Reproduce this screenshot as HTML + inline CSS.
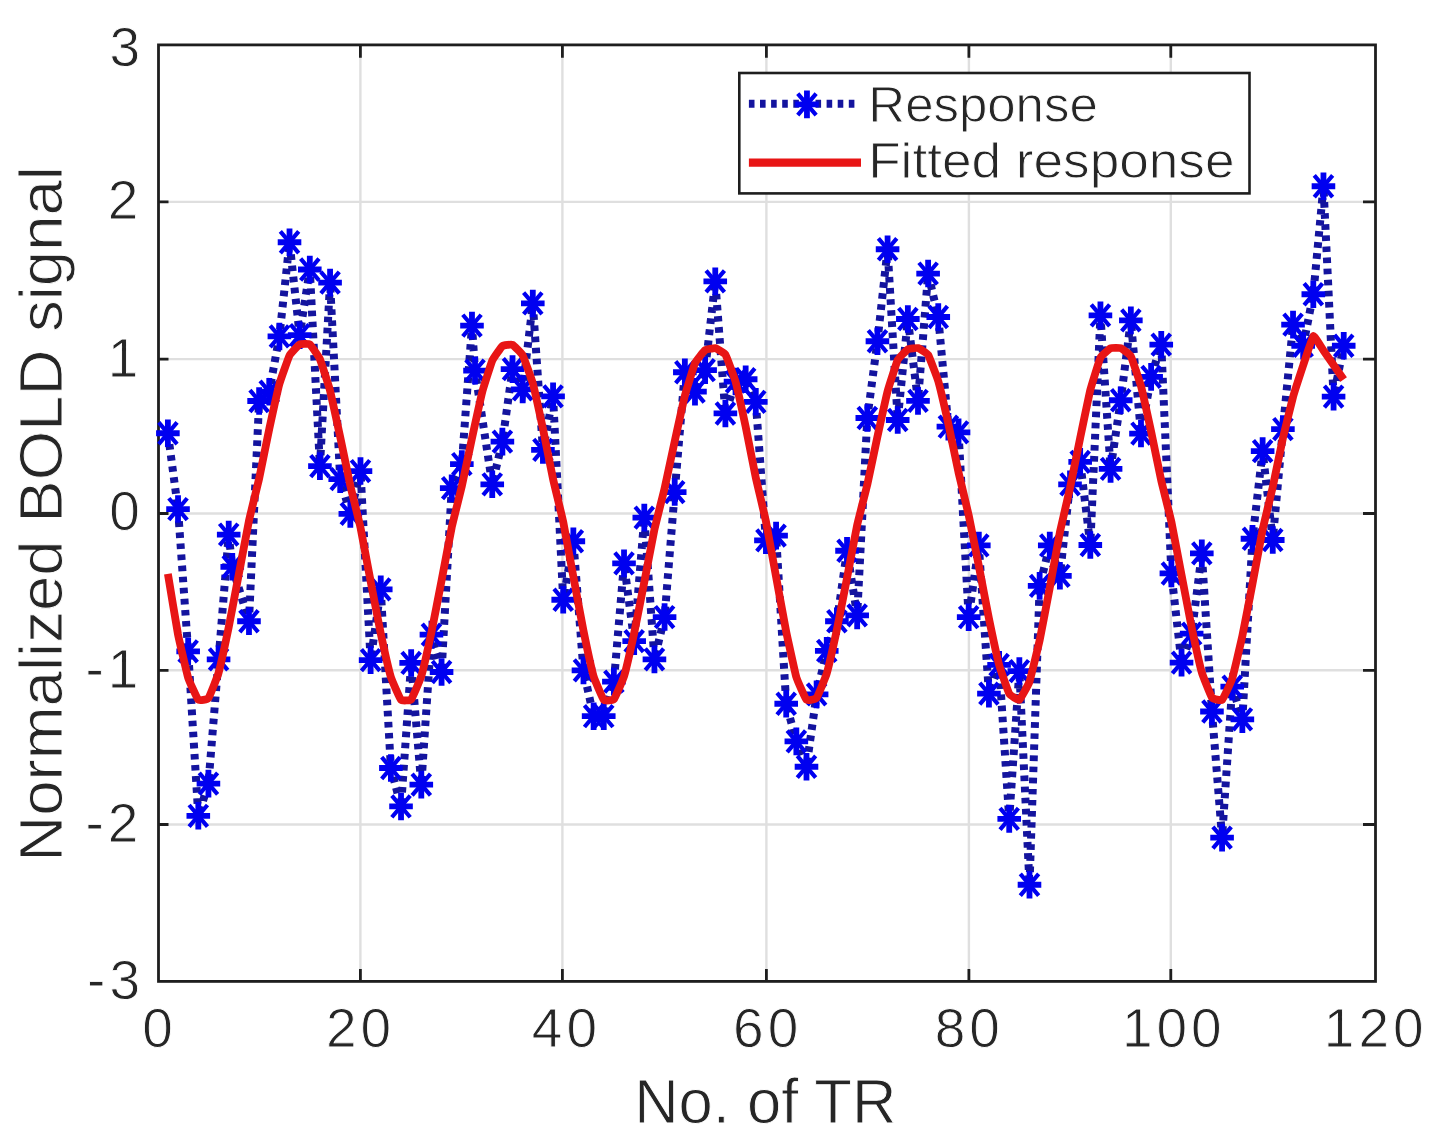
<!DOCTYPE html><html><head><meta charset="utf-8"><style>html,body{margin:0;padding:0;background:#fff;}svg{display:block;}text{font-family:"Liberation Sans",sans-serif;fill:#262626;stroke:#fff;stroke-width:0.9px;}</style></head><body>
<svg width="1440" height="1138" viewBox="0 0 1440 1138">
<rect width="1440" height="1138" fill="#fff"/>
<path d="M360.40 44.90V981.40M562.40 44.90V981.40M766.40 44.90V981.40M968.90 44.90V981.40M1170.80 44.90V981.40M158.50 201.90H1375.50M158.50 359.10H1375.50M158.50 513.50H1375.50M158.50 670.30H1375.50M158.50 824.50H1375.50" stroke="#dfdfdf" stroke-width="2.4" fill="none"/>
<path d="M360.40 981.40V969.00M360.40 44.90V57.70M562.40 981.40V969.00M562.40 44.90V57.70M766.40 981.40V969.00M766.40 44.90V57.70M968.90 981.40V969.00M968.90 44.90V57.70M1170.80 981.40V969.00M1170.80 44.90V57.70M158.50 201.90H168.50M1375.50 201.90H1363.00M158.50 359.10H168.50M1375.50 359.10H1363.00M158.50 513.50H168.50M1375.50 513.50H1363.00M158.50 670.30H168.50M1375.50 670.30H1363.00M158.50 824.50H168.50M1375.50 824.50H1363.00" stroke="#1e1e1e" stroke-width="2.8" fill="none"/>
<rect x="158.50" y="44.90" width="1217.00" height="936.50" fill="none" stroke="#1e1e1e" stroke-width="2.8"/>
<polyline points="167.89,433.24 178.02,509.04 188.16,651.29 198.30,815.80 208.43,783.58 218.57,659.38 228.71,534.56 232.25,566.78 248.98,621.25 259.12,401.02 269.25,391.68 279.39,336.43 289.52,242.27 299.66,335.19 309.80,269.51 319.93,466.08 330.07,282.58 340.21,479.15 350.34,513.86 360.48,471.06 370.62,660.16 380.75,589.35 390.89,768.02 401.03,806.46 411.16,662.96 421.30,784.67 431.44,634.64 441.57,671.99 451.71,488.18 461.84,464.06 471.98,325.54 475.02,370.67 492.25,484.29 502.39,441.64 512.53,369.11 522.66,389.35 532.80,303.43 542.94,449.89 553.07,396.35 563.21,599.77 573.35,541.25 583.48,670.43 593.62,716.19 603.76,716.19 613.89,681.64 624.03,563.35 634.17,641.17 644.30,517.60 654.44,659.38 664.58,617.05 674.71,492.07 684.85,372.23 694.98,391.68 705.12,370.20 715.26,281.33 725.39,413.47 735.53,381.57 745.67,379.23 755.80,401.80 765.94,540.32 776.08,535.65 786.21,703.74 796.35,741.41 806.49,766.77 816.62,694.40 826.76,650.82 836.90,621.25 847.03,550.75 857.17,615.34 867.30,417.99 877.44,341.26 887.58,249.27 897.71,420.01 907.85,319.00 917.99,400.87 928.12,273.55 938.26,316.98 948.40,426.70 958.53,432.30 968.67,617.20 978.81,545.45 988.94,693.62 999.08,664.83 1009.22,818.91 1019.35,671.06 1029.49,884.75 1039.63,585.92 1049.76,545.45 1059.90,575.80 1070.03,484.29 1080.17,461.88 1090.31,544.99 1100.44,315.42 1110.58,468.88 1120.72,400.24 1130.85,320.40 1140.99,433.55 1151.13,376.90 1161.26,344.68 1171.40,573.47 1181.54,662.65 1191.67,633.70 1201.81,553.39 1211.95,711.52 1222.08,837.59 1232.22,686.62 1242.36,719.30 1252.49,538.76 1262.63,451.14 1272.76,540.01 1282.90,429.04 1293.04,324.60 1303.17,345.77 1313.31,294.25 1323.45,186.24 1333.58,396.66 1343.72,345.77" fill="none" stroke="#14149e" stroke-width="8" stroke-dasharray="5.6 5.5" stroke-linejoin="miter"/>
<path d="M158.69 422.44L177.09 444.04M158.69 444.04L177.09 422.44M168.82 498.24L187.22 519.84M168.82 519.84L187.22 498.24M178.96 640.49L197.36 662.09M178.96 662.09L197.36 640.49M189.10 805.00L207.50 826.60M189.10 826.60L207.50 805.00M199.23 772.78L217.63 794.38M199.23 794.38L217.63 772.78M209.37 648.58L227.77 670.18M209.37 670.18L227.77 648.58M219.51 523.76L237.91 545.36M219.51 545.36L237.91 523.76M223.05 555.98L241.45 577.58M223.05 577.58L241.45 555.98M239.78 610.45L258.18 632.05M239.78 632.05L258.18 610.45M249.92 390.22L268.31 411.82M249.92 411.82L268.31 390.22M260.05 380.88L278.45 402.48M260.05 402.48L278.45 380.88M270.19 325.63L288.59 347.23M270.19 347.23L288.59 325.63M280.32 231.47L298.72 253.07M280.32 253.07L298.72 231.47M290.46 324.39L308.86 345.99M290.46 345.99L308.86 324.39M300.60 258.71L319.00 280.31M300.60 280.31L319.00 258.71M310.73 455.28L329.13 476.88M310.73 476.88L329.13 455.28M320.87 271.78L339.27 293.38M320.87 293.38L339.27 271.78M331.01 468.35L349.41 489.95M331.01 489.95L349.41 468.35M341.14 503.06L359.54 524.66M341.14 524.66L359.54 503.06M351.28 460.26L369.68 481.86M351.28 481.86L369.68 460.26M361.42 649.36L379.82 670.96M361.42 670.96L379.82 649.36M371.55 578.55L389.95 600.15M371.55 600.15L389.95 578.55M381.69 757.22L400.09 778.82M381.69 778.82L400.09 757.22M391.83 795.66L410.23 817.26M391.83 817.26L410.23 795.66M401.96 652.16L420.36 673.76M401.96 673.76L420.36 652.16M412.10 773.87L430.50 795.47M412.10 795.47L430.50 773.87M422.24 623.84L440.64 645.44M422.24 645.44L440.64 623.84M432.37 661.19L450.77 682.79M432.37 682.79L450.77 661.19M442.51 477.38L460.91 498.98M442.51 498.98L460.91 477.38M452.64 453.26L471.04 474.86M452.64 474.86L471.04 453.26M462.78 314.74L481.18 336.34M462.78 336.34L481.18 314.74M465.82 359.87L484.22 381.47M465.82 381.47L484.22 359.87M483.05 473.49L501.45 495.09M483.05 495.09L501.45 473.49M493.19 430.84L511.59 452.44M493.19 452.44L511.59 430.84M503.33 358.31L521.73 379.91M503.33 379.91L521.73 358.31M513.46 378.55L531.86 400.15M513.46 400.15L531.86 378.55M523.60 292.63L542.00 314.23M523.60 314.23L542.00 292.63M533.74 439.09L552.14 460.69M533.74 460.69L552.14 439.09M543.87 385.55L562.27 407.15M543.87 407.15L562.27 385.55M554.01 588.97L572.41 610.57M554.01 610.57L572.41 588.97M564.15 530.45L582.55 552.05M564.15 552.05L582.55 530.45M574.28 659.63L592.68 681.23M574.28 681.23L592.68 659.63M584.42 705.39L602.82 726.99M584.42 726.99L602.82 705.39M594.56 705.39L612.96 726.99M594.56 726.99L612.96 705.39M604.69 670.84L623.09 692.44M604.69 692.44L623.09 670.84M614.83 552.55L633.23 574.15M614.83 574.15L633.23 552.55M624.97 630.37L643.37 651.97M624.97 651.97L643.37 630.37M635.10 506.80L653.50 528.40M635.10 528.40L653.50 506.80M645.24 648.58L663.64 670.18M645.24 670.18L663.64 648.58M655.38 606.25L673.78 627.85M655.38 627.85L673.78 606.25M665.51 481.27L683.91 502.87M665.51 502.87L683.91 481.27M675.65 361.43L694.05 383.03M675.65 383.03L694.05 361.43M685.78 380.88L704.18 402.48M685.78 402.48L704.18 380.88M695.92 359.40L714.32 381.00M695.92 381.00L714.32 359.40M706.06 270.53L724.46 292.13M706.06 292.13L724.46 270.53M716.19 402.67L734.59 424.27M716.19 424.27L734.59 402.67M726.33 370.77L744.73 392.37M726.33 392.37L744.73 370.77M736.47 368.43L754.87 390.03M736.47 390.03L754.87 368.43M746.60 391.00L765.00 412.60M746.60 412.60L765.00 391.00M756.74 529.52L775.14 551.12M756.74 551.12L775.14 529.52M766.88 524.85L785.28 546.45M766.88 546.45L785.28 524.85M777.01 692.94L795.41 714.54M777.01 714.54L795.41 692.94M787.15 730.61L805.55 752.21M787.15 752.21L805.55 730.61M797.29 755.98L815.69 777.57M797.29 777.57L815.69 755.98M807.42 683.60L825.82 705.20M807.42 705.20L825.82 683.60M817.56 640.02L835.96 661.62M817.56 661.62L835.96 640.02M827.70 610.45L846.10 632.05M827.70 632.05L846.10 610.45M837.83 539.95L856.23 561.55M837.83 561.55L856.23 539.95M847.97 604.54L866.37 626.14M847.97 626.14L866.37 604.54M858.10 407.19L876.50 428.79M858.10 428.79L876.50 407.19M868.24 330.46L886.64 352.06M868.24 352.06L886.64 330.46M878.38 238.47L896.78 260.07M878.38 260.07L896.78 238.47M888.51 409.21L906.91 430.81M888.51 430.81L906.91 409.21M898.65 308.20L917.05 329.80M898.65 329.80L917.05 308.20M908.79 390.07L927.19 411.67M908.79 411.67L927.19 390.07M918.92 262.75L937.32 284.35M918.92 284.35L937.32 262.75M929.06 306.18L947.46 327.78M929.06 327.78L947.46 306.18M939.20 415.90L957.60 437.50M939.20 437.50L957.60 415.90M949.33 421.50L967.73 443.10M949.33 443.10L967.73 421.50M959.47 606.40L977.87 628.00M959.47 628.00L977.87 606.40M969.61 534.65L988.01 556.25M969.61 556.25L988.01 534.65M979.74 682.82L998.14 704.42M979.74 704.42L998.14 682.82M989.88 654.03L1008.28 675.63M989.88 675.63L1008.28 654.03M1000.02 808.11L1018.42 829.71M1000.02 829.71L1018.42 808.11M1010.15 660.26L1028.55 681.86M1010.15 681.86L1028.55 660.26M1020.29 873.95L1038.69 895.55M1020.29 895.55L1038.69 873.95M1030.43 575.12L1048.83 596.72M1030.43 596.72L1048.83 575.12M1040.56 534.65L1058.96 556.25M1040.56 556.25L1058.96 534.65M1050.70 565.00L1069.10 586.60M1050.70 586.60L1069.10 565.00M1060.83 473.49L1079.23 495.09M1060.83 495.09L1079.23 473.49M1070.97 451.08L1089.37 472.68M1070.97 472.68L1089.37 451.08M1081.11 534.19L1099.51 555.79M1081.11 555.79L1099.51 534.19M1091.24 304.62L1109.64 326.22M1091.24 326.22L1109.64 304.62M1101.38 458.08L1119.78 479.68M1101.38 479.68L1119.78 458.08M1111.52 389.44L1129.92 411.04M1111.52 411.04L1129.92 389.44M1121.65 309.60L1140.05 331.20M1121.65 331.20L1140.05 309.60M1131.79 422.75L1150.19 444.35M1131.79 444.35L1150.19 422.75M1141.93 366.10L1160.33 387.70M1141.93 387.70L1160.33 366.10M1152.06 333.88L1170.46 355.48M1152.06 355.48L1170.46 333.88M1162.20 562.67L1180.60 584.27M1162.20 584.27L1180.60 562.67M1172.34 651.85L1190.74 673.45M1172.34 673.45L1190.74 651.85M1182.47 622.90L1200.87 644.50M1182.47 644.50L1200.87 622.90M1192.61 542.59L1211.01 564.19M1192.61 564.19L1211.01 542.59M1202.75 700.72L1221.15 722.32M1202.75 722.32L1221.15 700.72M1212.88 826.79L1231.28 848.39M1212.88 848.39L1231.28 826.79M1223.02 675.82L1241.42 697.42M1223.02 697.42L1241.42 675.82M1233.16 708.50L1251.56 730.10M1233.16 730.10L1251.56 708.50M1243.29 527.96L1261.69 549.56M1243.29 549.56L1261.69 527.96M1253.43 440.34L1271.83 461.94M1253.43 461.94L1271.83 440.34M1263.56 529.21L1281.96 550.81M1263.56 550.81L1281.96 529.21M1273.70 418.24L1292.10 439.84M1273.70 439.84L1292.10 418.24M1283.84 313.80L1302.24 335.40M1283.84 335.40L1302.24 313.80M1293.97 334.97L1312.37 356.57M1293.97 356.57L1312.37 334.97M1304.11 283.45L1322.51 305.05M1304.11 305.05L1322.51 283.45M1314.25 175.44L1332.65 197.04M1314.25 197.04L1332.65 175.44M1324.38 385.86L1342.78 407.46M1324.38 407.46L1342.78 385.86M1334.52 334.97L1352.92 356.57M1334.52 356.57L1352.92 334.97" fill="none" stroke="#0000f0" stroke-width="4.2"/>
<path d="M156.09 433.24H179.69M167.89 419.44V447.04M166.22 509.04H189.82M178.02 495.24V522.84M176.36 651.29H199.96M188.16 637.49V665.09M186.50 815.80H210.10M198.30 802.00V829.60M196.63 783.58H220.23M208.43 769.78V797.38M206.77 659.38H230.37M218.57 645.58V673.18M216.91 534.56H240.51M228.71 520.76V548.36M220.45 566.78H244.05M232.25 552.98V580.58M237.18 621.25H260.78M248.98 607.45V635.05M247.31 401.02H270.92M259.12 387.22V414.82M257.45 391.68H281.05M269.25 377.88V405.48M267.59 336.43H291.19M279.39 322.63V350.23M277.72 242.27H301.32M289.52 228.47V256.07M287.86 335.19H311.46M299.66 321.39V348.99M298.00 269.51H321.60M309.80 255.71V283.31M308.13 466.08H331.73M319.93 452.28V479.88M318.27 282.58H341.87M330.07 268.78V296.38M328.41 479.15H352.01M340.21 465.35V492.95M338.54 513.86H362.14M350.34 500.06V527.66M348.68 471.06H372.28M360.48 457.26V484.86M358.82 660.16H382.42M370.62 646.36V673.96M368.95 589.35H392.55M380.75 575.55V603.15M379.09 768.02H402.69M390.89 754.22V781.82M389.23 806.46H412.83M401.03 792.66V820.26M399.36 662.96H422.96M411.16 649.16V676.76M409.50 784.67H433.10M421.30 770.87V798.47M419.64 634.64H443.24M431.44 620.84V648.44M429.77 671.99H453.37M441.57 658.19V685.79M439.91 488.18H463.51M451.71 474.38V501.98M450.04 464.06H473.64M461.84 450.26V477.86M460.18 325.54H483.78M471.98 311.74V339.34M463.22 370.67H486.82M475.02 356.87V384.47M480.45 484.29H504.05M492.25 470.49V498.09M490.59 441.64H514.19M502.39 427.84V455.44M500.73 369.11H524.33M512.53 355.31V382.91M510.86 389.35H534.46M522.66 375.55V403.15M521.00 303.43H544.60M532.80 289.63V317.23M531.14 449.89H554.74M542.94 436.09V463.69M541.27 396.35H564.87M553.07 382.55V410.15M551.41 599.77H575.01M563.21 585.97V613.57M561.55 541.25H585.15M573.35 527.45V555.05M571.68 670.43H595.28M583.48 656.63V684.23M581.82 716.19H605.42M593.62 702.39V729.99M591.96 716.19H615.56M603.76 702.39V729.99M602.09 681.64H625.69M613.89 667.84V695.44M612.23 563.35H635.83M624.03 549.55V577.15M622.37 641.17H645.97M634.17 627.37V654.97M632.50 517.60H656.10M644.30 503.80V531.40M642.64 659.38H666.24M654.44 645.58V673.18M652.78 617.05H676.38M664.58 603.25V630.85M662.91 492.07H686.51M674.71 478.27V505.87M673.05 372.23H696.65M684.85 358.43V386.03M683.18 391.68H706.78M694.98 377.88V405.48M693.32 370.20H716.92M705.12 356.40V384.00M703.46 281.33H727.06M715.26 267.53V295.13M713.59 413.47H737.19M725.39 399.67V427.27M723.73 381.57H747.33M735.53 367.77V395.37M733.87 379.23H757.47M745.67 365.43V393.03M744.00 401.80H767.60M755.80 388.00V415.60M754.14 540.32H777.74M765.94 526.52V554.12M764.28 535.65H787.88M776.08 521.85V549.45M774.41 703.74H798.01M786.21 689.94V717.54M784.55 741.41H808.15M796.35 727.61V755.21M794.69 766.77H818.29M806.49 752.98V780.57M804.82 694.40H828.42M816.62 680.60V708.20M814.96 650.82H838.56M826.76 637.02V664.62M825.10 621.25H848.70M836.90 607.45V635.05M835.23 550.75H858.83M847.03 536.95V564.55M845.37 615.34H868.97M857.17 601.54V629.14M855.50 417.99H879.10M867.30 404.19V431.79M865.64 341.26H889.24M877.44 327.46V355.06M875.78 249.27H899.38M887.58 235.47V263.07M885.91 420.01H909.51M897.71 406.21V433.81M896.05 319.00H919.65M907.85 305.20V332.80M906.19 400.87H929.79M917.99 387.07V414.67M916.32 273.55H939.92M928.12 259.75V287.35M926.46 316.98H950.06M938.26 303.18V330.78M936.60 426.70H960.20M948.40 412.90V440.50M946.73 432.30H970.33M958.53 418.50V446.10M956.87 617.20H980.47M968.67 603.40V631.00M967.01 545.45H990.61M978.81 531.65V559.25M977.14 693.62H1000.74M988.94 679.82V707.42M987.28 664.83H1010.88M999.08 651.03V678.63M997.42 818.91H1021.02M1009.22 805.11V832.71M1007.55 671.06H1031.15M1019.35 657.26V684.86M1017.69 884.75H1041.29M1029.49 870.95V898.55M1027.83 585.92H1051.43M1039.63 572.12V599.72M1037.96 545.45H1061.56M1049.76 531.65V559.25M1048.10 575.80H1071.70M1059.90 562.00V589.60M1058.23 484.29H1081.83M1070.03 470.49V498.09M1068.37 461.88H1091.97M1080.17 448.08V475.68M1078.51 544.99H1102.11M1090.31 531.19V558.79M1088.64 315.42H1112.24M1100.44 301.62V329.22M1098.78 468.88H1122.38M1110.58 455.08V482.68M1108.92 400.24H1132.52M1120.72 386.44V414.04M1119.05 320.40H1142.65M1130.85 306.60V334.20M1129.19 433.55H1152.79M1140.99 419.75V447.35M1139.33 376.90H1162.93M1151.13 363.10V390.70M1149.46 344.68H1173.06M1161.26 330.88V358.48M1159.60 573.47H1183.20M1171.40 559.67V587.27M1169.74 662.65H1193.34M1181.54 648.85V676.45M1179.87 633.70H1203.47M1191.67 619.90V647.50M1190.01 553.39H1213.61M1201.81 539.59V567.19M1200.15 711.52H1223.75M1211.95 697.72V725.32M1210.28 837.59H1233.88M1222.08 823.79V851.39M1220.42 686.62H1244.02M1232.22 672.82V700.42M1230.56 719.30H1254.16M1242.36 705.50V733.10M1240.69 538.76H1264.29M1252.49 524.96V552.56M1250.83 451.14H1274.43M1262.63 437.34V464.94M1260.96 540.01H1284.56M1272.76 526.21V553.81M1271.10 429.04H1294.70M1282.90 415.24V442.84M1281.24 324.60H1304.84M1293.04 310.80V338.40M1291.37 345.77H1314.97M1303.17 331.97V359.57M1301.51 294.25H1325.11M1313.31 280.45V308.05M1311.65 186.24H1335.25M1323.45 172.44V200.04M1321.78 396.66H1345.38M1333.58 382.86V410.46M1331.92 345.77H1355.52M1343.72 331.97V359.57" fill="none" stroke="#0000f0" stroke-width="5.8"/>
<path d="M167.89 573.94C168.39 576.97 177.01 629.31 178.02 634.51C179.04 639.70 187.15 674.58 188.16 677.85C189.17 681.12 197.28 698.83 198.30 699.85C199.31 700.87 207.42 699.51 208.43 698.16C209.45 696.81 217.56 676.40 218.57 672.85C219.58 669.31 227.69 632.21 228.71 627.27C229.72 622.33 237.83 579.41 238.84 574.08C239.86 568.75 247.96 525.46 248.98 520.69C249.99 515.91 258.10 483.17 259.12 478.59C260.13 474.01 268.24 433.82 269.25 429.09C270.27 424.36 278.37 387.71 279.39 384.04C280.40 380.36 288.51 357.55 289.52 355.56C290.54 353.58 298.65 344.93 299.66 344.37C300.67 343.81 308.78 343.63 309.80 344.37C310.81 345.10 318.92 356.77 319.93 359.08C320.95 361.40 329.06 386.79 330.07 390.68C331.08 394.58 339.19 432.24 340.21 436.99C341.22 441.74 349.33 481.19 350.34 485.71C351.36 490.24 359.47 522.69 360.48 527.47C361.49 532.25 369.60 576.03 370.62 581.33C371.63 586.64 379.74 628.71 380.75 633.50C381.77 638.29 389.88 673.83 390.89 677.15C391.90 680.47 400.01 698.74 401.03 699.85C402.04 700.96 410.15 700.56 411.16 699.38C412.18 698.19 420.29 679.55 421.30 676.19C422.31 672.84 430.42 637.05 431.44 632.26C432.45 627.48 440.56 585.81 441.57 580.57C442.59 575.32 450.69 532.11 451.71 527.39C452.72 522.67 460.83 490.65 461.84 486.19C462.86 481.73 470.97 442.89 471.98 438.20C473.00 433.52 481.10 396.30 482.12 392.42C483.13 388.54 491.24 362.94 492.25 360.62C493.27 358.31 501.38 346.87 502.39 346.08C503.40 345.29 511.51 344.38 512.53 344.83C513.54 345.29 521.65 353.29 522.66 355.21C523.68 357.13 531.79 379.60 532.80 383.27C533.81 386.95 541.92 423.97 542.94 428.76C543.95 433.56 552.06 474.48 553.07 479.14C554.09 483.80 562.20 517.01 563.21 521.88C564.22 526.76 572.33 571.19 573.35 576.63C574.36 582.07 582.47 625.72 583.48 630.71C584.50 635.69 592.61 672.94 593.62 676.39C594.63 679.85 602.74 698.71 603.76 699.85C604.77 700.99 612.88 700.45 613.89 699.27C614.91 698.10 623.02 679.66 624.03 676.35C625.04 673.04 633.15 637.76 634.17 633.05C635.18 628.34 643.29 587.25 644.30 582.08C645.32 576.90 653.42 534.23 654.44 529.54C655.45 524.85 663.56 492.68 664.58 488.27C665.59 483.86 673.70 445.88 674.71 441.26C675.73 436.63 683.83 399.69 684.85 395.79C685.86 391.88 693.97 365.45 694.98 363.17C696.00 360.89 704.11 350.96 705.12 350.20C706.13 349.45 714.24 347.88 715.26 348.10C716.27 348.32 724.38 352.92 725.39 354.58C726.41 356.25 734.52 377.84 735.53 381.44C736.54 385.05 744.65 421.91 745.67 426.72C746.68 431.54 754.79 473.02 755.80 477.75C756.82 482.48 764.93 516.43 765.94 521.39C766.95 526.34 775.06 571.33 776.08 576.85C777.09 582.36 785.20 626.68 786.21 631.70C787.23 636.72 795.34 673.84 796.35 677.25C797.36 680.65 805.47 698.82 806.49 699.85C807.50 700.88 815.61 699.11 816.62 697.79C817.64 696.47 825.75 676.87 826.76 673.46C827.77 670.04 835.88 634.29 836.90 629.52C837.91 624.74 846.02 583.18 847.03 577.96C848.05 572.74 856.15 529.72 857.17 525.06C858.18 520.39 866.29 489.08 867.30 484.66C868.32 480.24 876.43 441.33 877.44 436.66C878.46 431.99 886.56 395.09 887.58 391.26C888.59 387.43 896.70 362.14 897.71 360.04C898.73 357.95 906.84 349.91 907.85 349.32C908.86 348.72 916.97 347.82 917.99 348.10C919.00 348.38 927.11 353.24 928.12 354.90C929.14 356.55 937.25 377.68 938.26 381.14C939.27 384.59 947.38 419.46 948.40 424.03C949.41 428.60 957.52 467.94 958.53 472.49C959.55 477.04 967.66 510.37 968.67 515.04C969.68 519.71 977.79 560.70 978.81 565.88C979.82 571.05 987.93 613.59 988.94 618.54C989.96 623.48 998.07 661.08 999.08 664.83C1000.09 668.58 1008.20 691.84 1009.22 693.59C1010.23 695.34 1018.34 700.45 1019.35 699.85C1020.37 699.25 1028.48 684.59 1029.49 681.62C1030.50 678.65 1038.61 645.14 1039.63 640.45C1040.64 635.75 1048.75 593.15 1049.76 587.74C1050.78 582.33 1058.88 537.19 1059.90 532.20C1060.91 527.21 1069.02 492.61 1070.03 487.90C1071.05 483.19 1079.16 442.83 1080.17 437.93C1081.19 433.03 1089.29 394.01 1090.31 389.99C1091.32 385.97 1099.43 359.68 1100.44 357.59C1101.46 355.50 1109.57 348.69 1110.58 348.21C1111.59 347.74 1119.70 347.70 1120.72 348.10C1121.73 348.50 1129.84 354.33 1130.85 356.23C1131.87 358.13 1139.98 382.33 1140.99 386.10C1142.00 389.86 1150.11 426.89 1151.13 431.62C1152.14 436.34 1160.25 476.14 1161.26 480.65C1162.28 485.17 1170.39 517.15 1171.40 521.86C1172.41 526.58 1180.52 569.64 1181.54 574.92C1182.55 580.20 1190.66 622.53 1191.67 627.40C1192.69 632.27 1200.80 668.87 1201.81 672.38C1202.82 675.89 1210.93 696.23 1211.95 697.60C1212.96 698.98 1221.07 700.80 1222.08 699.85C1223.10 698.90 1231.21 681.76 1232.22 678.56C1233.23 675.36 1241.34 640.59 1242.36 635.85C1243.37 631.11 1251.48 589.06 1252.49 583.74C1253.51 578.43 1261.61 534.40 1262.63 529.56C1263.64 524.73 1271.75 491.58 1272.76 487.01C1273.78 482.44 1281.89 442.71 1282.90 438.20C1283.92 433.70 1292.02 400.62 1293.04 396.97C1294.05 393.33 1302.16 368.42 1303.17 365.38C1304.19 362.34 1312.30 336.87 1313.31 336.12C1314.32 335.37 1322.43 349.00 1323.45 350.44C1324.46 351.88 1332.57 363.46 1333.58 364.91C1334.60 366.37 1343.21 378.81 1343.72 379.54" fill="none" stroke="#e81515" stroke-width="7.8" stroke-linejoin="round"/>
<text x="109.43" y="65.60" font-size="55" letter-spacing="4.0">3</text>
<text x="107.68" y="219.00" font-size="55" letter-spacing="4.0">2</text>
<text x="107.80" y="377.00" font-size="55" letter-spacing="4.0">1</text>
<text x="109.16" y="530.20" font-size="55" letter-spacing="4.0">0</text>
<text x="85.38" y="688.00" font-size="55" letter-spacing="4.0">-1</text>
<text x="85.56" y="842.00" font-size="55" letter-spacing="4.0">-2</text>
<text x="87.11" y="999.20" font-size="55" letter-spacing="4.0">-3</text>
<text x="142.16" y="1046.80" font-size="55" letter-spacing="4.0">0</text>
<text x="325.95" y="1046.80" font-size="55" letter-spacing="4.0">20</text>
<text x="531.85" y="1046.80" font-size="55" letter-spacing="4.0">40</text>
<text x="733.09" y="1046.80" font-size="55" letter-spacing="4.0">60</text>
<text x="934.79" y="1046.80" font-size="55" letter-spacing="4.0">80</text>
<text x="1121.90" y="1046.80" font-size="55" letter-spacing="4.0">100</text>
<text x="1323.80" y="1046.80" font-size="55" letter-spacing="4.0">120</text>
<text transform="translate(639.20 1122.50) scale(0.9846 1)" x="-5.13" y="0" font-size="62.5">No. of TR</text>
<text transform="translate(61.70 856.50) rotate(-90) scale(1.0334 1)" x="-5.04" y="0" font-size="61.5">Normalized BOLD signal</text>
<rect x="739.30" y="73.00" width="510.20" height="120.40" fill="#fff" stroke="#1e1e1e" stroke-width="2.6"/>
<text transform="translate(872.50 122.20) scale(1.0195 1)" x="-4.10" y="0" font-size="50">Response</text>
<text transform="translate(872.50 177.80) scale(1.0632 1)" x="-4.10" y="0" font-size="50">Fitted response</text>
<path d="M748.90 103.70H855.60" stroke="#14149e" stroke-width="8" stroke-dasharray="5.6 5.5" fill="none"/>
<path d="M797.75 93.60L816.15 115.20M797.75 115.20L816.15 93.60" fill="none" stroke="#0000f0" stroke-width="4.2"/>
<path d="M795.15 104.40H818.75M806.95 90.60V118.20" fill="none" stroke="#0000f0" stroke-width="5.8"/>
<path d="M748.90 162.60H861.00" stroke="#e81515" stroke-width="8.2" fill="none"/>
</svg></body></html>
